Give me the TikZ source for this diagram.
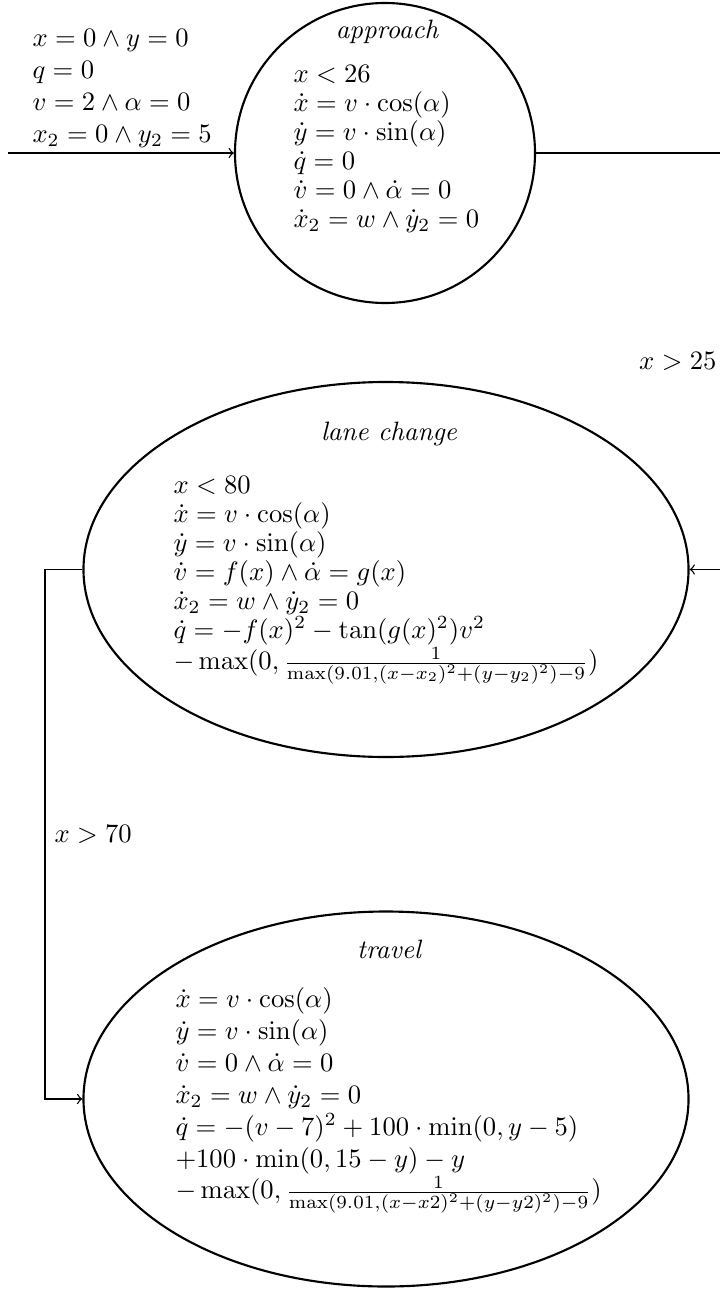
\documentclass[tikz,border=0pt]{standalone}
\usetikzlibrary{shapes.geometric}

\tikzset{
  state/.style={draw, line width=0.8pt},
  lanestate/.style={state, ellipse, minimum width=227.5pt, minimum height=141pt},
  body/.style={align=left, inner sep=0pt, anchor=north west},
  tightbody/.style={body, font=\fontsize{10}{10.9}\selectfont},
  title/.style={font=\itshape, inner sep=0pt},
  edge/.style={line width=0.5pt}
}

\begin{document}
\begin{tikzpicture}[x=0.376pt, y=-0.376pt]
  \useasboundingbox (0,0) rectangle (720,1291);

  % Locations
  \node[state, circle, minimum size=112.8pt] (approach) at (385,153) {};
  \node[lanestate] (lane) at (386,569.5) {};
  \node[lanestate] (travel) at (386,1099) {};

  % Location names
  \node[title] (approachname) at (387,32) {approach};
  \node[title] (lanename) at (389,434) {lane change};
  \node[title] (travelname) at (389,949) {travel};

  % Initial values
  \node[body] (init) at (32,29) {$x = 0 \land y = 0$\\ $q = 0$\\
    $v = 2 \land \alpha = 0$\\ $x_2 = 0 \land y_2 = 5$};

  % Invariants and flows
  \node[tightbody] (approachflow) at (293,64.5) {$x < 26$\\
    $\dot{x} = v \cdot \cos(\alpha)$\\ $\dot{y} = v \cdot \sin(\alpha)$\\
    $\dot{q} = 0$\\ $\dot{v} = 0 \land \dot{\alpha} = 0$\\
    $\dot{x}_2 = w \land \dot{y}_2 = 0$};
  \node[tightbody] (laneflow) at (173,475.5) {$x < 80$\\
    $\dot{x} = v \cdot \cos(\alpha)$\\ $\dot{y} = v \cdot \sin(\alpha)$\\
    $\dot{v} = f(x) \land \dot{\alpha} = g(x)$\\
    $\dot{x}_2 = w \land \dot{y}_2 = 0$\\
    $\dot{q} = -f(x)^2 - \tan(g(x)^2)v^2$\\
    $-\max(0, \frac{1}{\max(9.01, (x-x_2)^2+(y-y_2)^2)-9})$};
  \node[body] (travelflow) at (175,987) {$\dot{x} = v \cdot \cos(\alpha)$\\
    $\dot{y} = v \cdot \sin(\alpha)$\\ $\dot{v} = 0 \land \dot{\alpha} = 0$\\
    $\dot{x}_2 = w \land \dot{y}_2 = 0$\\
    $\dot{q} = -(v-7)^2 + 100 \cdot \min(0, y-5)$\\
    $+100 \cdot \min(0, 15-y) - y$\\
    $-\max(0, \frac{1}{\max(9.01, (x-x2)^2+(y-y2)^2)-9})$};

  % Transitions
  \coordinate (start) at (8,153);
  \draw[edge, ->] (start) -- (approach);

  \coordinate (bendR) at (726,153);
  \draw[edge, ->] (approach) -- (bendR) |- node[pos=0.25, left] (guardR) {$x > 25$} (lane);

  \coordinate (bendL) at (45,569.5);
  \draw[edge, ->] (lane) -- (bendL) |- node[pos=0.25, right] (guardL) {$x > 70$} (travel);
\end{tikzpicture}
\end{document}
